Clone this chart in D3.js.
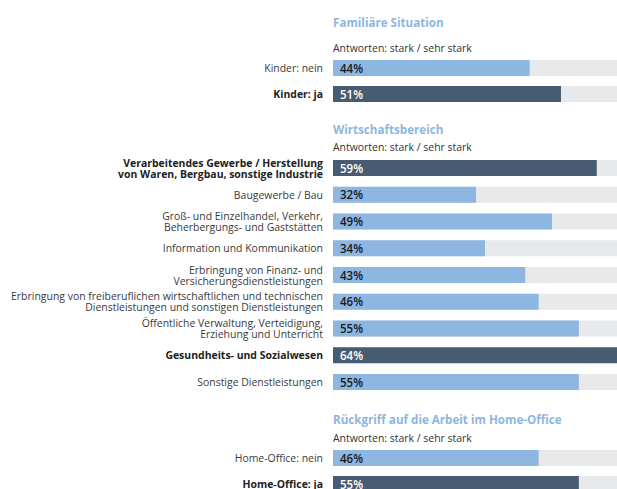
<!DOCTYPE html>
<html>
<head>
<meta charset="utf-8">
<script src="https://cdn.jsdelivr.net/npm/d3@7"></script>
<style>
	body { margin: 0; background: #fff; }
	svg { display: block; font-family: "Open Sans", sans-serif; }
</style>
</head>
<body>
<div id="container"></div>
<script>
// data
var subtitle = "Antworten: stark / sehr stark";
var sectionTitles = ["Familiäre Situation", "Wirtschaftsbereich", "Rückgriff auf die Arbeit im Home-Office"];

var familyLabels = [["Kinder: nein"], ["Kinder: ja"]];
var familyValues = [44, 51];
var familyHighlight = [false, true];

var sectorLabels = [
	["Verarbeitendes Gewerbe / Herstellung", "von Waren, Bergbau, sonstige Industrie"],
	["Baugewerbe / Bau"],
	["Groß- und Einzelhandel, Verkehr,", "Beherbergungs- und Gaststätten"],
	["Information und Kommunikation"],
	["Erbringung von Finanz- und", "Versicherungsdienstleistungen"],
	["Erbringung von freiberuflichen wirtschaftlichen und technischen", "Dienstleistungen und sonstigen Dienstleistungen"],
	["Öffentliche Verwaltung, Verteidigung,", "Erziehung und Unterricht"],
	["Gesundheits- und Sozialwesen"],
	["Sonstige Dienstleistungen"]
];
var sectorValues = [59, 32, 49, 34, 43, 46, 55, 64, 55];
var sectorHighlight = [true, false, false, false, false, false, false, true, false];

var homeLabels = [["Home-Office: nein"], ["Home-Office: ja"]];
var homeValues = [46, 55];
var homeHighlight = [false, true];

(function()
{
	var width = 617, height = 489;
	var barLeft = 333;
	var barH = 16;
	var condense = 0.95; // text in the original is a bit narrower than Open Sans

	var svg = d3.select("#container").append("svg")
		.attr("width", width).attr("height", height);

	var x = d3.scaleLinear().domain([0, 100]).range([barLeft, barLeft + 447]);

	// layout of the three blocks: title baseline, subtitle baseline, first bar top, row pitch
	var blocks = [
		{ title: sectionTitles[0], titleY: 27, subY: 52, top: 60, pitch: 26, labels: familyLabels, values: familyValues, hi: familyHighlight },
		{ title: sectionTitles[1], titleY: 134, subY: 151, top: 160, pitch: 26.75, labels: sectorLabels, values: sectorValues, hi: sectorHighlight },
		{ title: sectionTitles[2], titleY: 424, subY: 442, top: 450, pitch: 26, labels: homeLabels, values: homeValues, hi: homeHighlight }
	];

	blocks.forEach(function(b)
	{
		var g = svg.append("g");
		g.append("text")
			.attr("transform", "translate(" + barLeft + "," + b.titleY + ") scale(0.93,1)")
			.attr("font-size", 12.5).attr("font-weight", 700).attr("fill", "#8db6e1")
			.text(b.title);
		g.append("text")
			.attr("transform", "translate(" + barLeft + "," + b.subY + ") scale(" + condense + ",1)")
			.attr("font-size", 11).attr("fill", "#333")
			.text(subtitle);

		var n = b.values.length;
		var y = d3.scaleBand()
			.domain(d3.range(n))
			.range([b.top, b.top + n * b.pitch - (b.pitch - barH)])
			.paddingInner(1 - barH / b.pitch)
			.paddingOuter(0);

		var rows = g.selectAll("g.row").data(b.values).enter().append("g").attr("class", "row");

		rows.append("rect")
			.attr("x", x(0)).attr("y", function(d, i) { return y(i); })
			.attr("width", x(100) - x(0)).attr("height", y.bandwidth())
			.attr("fill", "#e8e9eb");
		rows.append("rect")
			.attr("x", x(0)).attr("y", function(d, i) { return y(i); })
			.attr("width", function(d) { return x(d) - x(0); }).attr("height", y.bandwidth())
			.attr("fill", function(d, i) { return b.hi[i] ? "#475c72" : "#8db6e1"; });
		rows.append("text")
			.attr("transform", function(d, i) { return "translate(" + (barLeft + 7) + "," + (y(i) + y.bandwidth() / 2 + 4.5) + ") scale(0.92,1)"; })
			.attr("font-size", 12.5).attr("font-weight", 600)
			.attr("fill", function(d, i) { return b.hi[i] ? "#fff" : "#1b1b1b"; })
			.text(function(d) { return Math.round(d) + "%"; });

		// category labels, right aligned, one or two lines
		rows.each(function(d, i)
		{
			var lines = b.labels[i];
			var cy = y(i) + y.bandwidth() / 2;
			var lh = 11;
			var firstY = cy + 4 - (lines.length - 1) * lh / 2;
			var t = d3.select(this).append("text")
				.attr("transform", "translate(" + (barLeft - 10) + "," + firstY + ") scale(" + condense + ",1)")
				.attr("text-anchor", "end")
				.attr("font-size", 11)
				.attr("font-weight", b.hi[i] ? 700 : 400)
				.attr("fill", b.hi[i] ? "#222" : "#3a3a3a");
			lines.forEach(function(line, k)
			{
				t.append("tspan").attr("x", 0).attr("y", k * lh).text(line);
			});
		});
	});
})();
</script>
</body>
</html>
